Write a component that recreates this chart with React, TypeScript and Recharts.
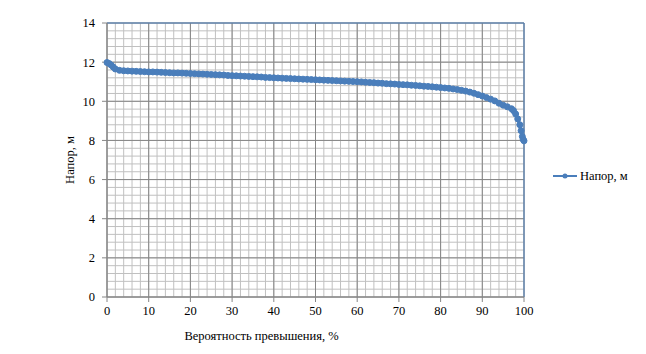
import { CartesianGrid, Line, LineChart, ReferenceLine, XAxis, YAxis } from "recharts";

const probability = [
  0, 0.5, 1, 1.5, 2, 3, 4, 5, 6, 7, 8, 9, 10, 11, 12, 13, 14, 15, 16, 17, 18, 19, 20,
  21, 22, 23, 24, 25, 26, 27, 28, 29, 30, 31, 32, 33, 34, 35, 36, 37, 38, 39, 40,
  41, 42, 43, 44, 45, 46, 47, 48, 49, 50, 51, 52, 53, 54, 55, 56, 57, 58, 59, 60,
  61, 62, 63, 64, 65, 66, 67, 68, 69, 70, 71, 72, 73, 74, 75, 76, 77, 78, 79, 80,
  81, 82, 83, 84, 85, 86, 87, 88, 89, 90, 91, 92, 93, 94, 95, 96, 97, 97.5, 98,
  98.5, 99, 99.3, 99.6, 99.8, 100,
];

const head = [
  11.98, 11.93, 11.85, 11.75, 11.65, 11.58, 11.56, 11.55, 11.54, 11.53, 11.52, 11.51,
  11.5, 11.5, 11.49, 11.48, 11.47, 11.46, 11.45, 11.45, 11.44, 11.43, 11.42, 11.41,
  11.4, 11.39, 11.38, 11.37, 11.36, 11.35, 11.34, 11.32, 11.31, 11.3, 11.29, 11.28,
  11.27, 11.26, 11.25, 11.24, 11.22, 11.21, 11.2, 11.19, 11.18, 11.17, 11.16, 11.15,
  11.14, 11.13, 11.12, 11.11, 11.1, 11.09, 11.08, 11.07, 11.06, 11.05, 11.04, 11.03,
  11.02, 11.01, 11.0, 10.99, 10.97, 10.96, 10.95, 10.93, 10.92, 10.9, 10.89, 10.88,
  10.86, 10.85, 10.84, 10.82, 10.81, 10.79, 10.77, 10.76, 10.74, 10.72, 10.7, 10.68,
  10.66, 10.63, 10.6, 10.56, 10.52, 10.47, 10.41, 10.34, 10.27, 10.19, 10.11, 10.02,
  9.9, 9.8, 9.72, 9.62, 9.52, 9.35, 9.1, 8.8, 8.5, 8.2, 8.05, 7.98,
];

const xTicks = [0, 10, 20, 30, 40, 50, 60, 70, 80, 90, 100];
const yTicks = [0, 2, 4, 6, 8, 10, 12, 14];

// minor grid: every 2 % on x, every 0.4 m on y
const xMinor = Array.from({ length: 51 }, (_, i) => i * 2);
const yMinor = Array.from({ length: 36 }, (_, i) => Math.round(i * 4) / 10);

const data = probability.map((p, i) => ({ p, head: head[i] }));

const FONT = "'Liberation Serif', 'DejaVu Serif', serif";
const BLUE = "#4a7ebb";
const tickStyle = { fill: "#000", fontSize: 12.5, fontFamily: FONT };

export default function App() {
  return (
    <div
      style={{
        position: "absolute",
        left: 0,
        top: 0,
        width: 646,
        height: 354,
        background: "#fff",
        fontFamily: FONT,
      }}
    >
      <LineChart
        width={646}
        height={354}
        data={data}
        margin={{ top: 23, right: 122, left: 67, bottom: 27 }}
        style={{ fontFamily: FONT }}
      >
        <CartesianGrid
          stroke="#c0c0c0"
          strokeWidth={1}
          verticalValues={xMinor}
          horizontalValues={yMinor}
        />
        <CartesianGrid stroke="#868686" strokeWidth={1} />
        <XAxis
          dataKey="p"
          type="number"
          domain={[0, 100]}
          ticks={xTicks}
          interval={0}
          stroke="#868686"
          tickSize={5}
          tickMargin={4}
          tick={tickStyle}
          height={30}
          label={{
            content: ({ viewBox }: any) => (
              <text
                x={viewBox.x + viewBox.width / 2 - 54}
                y={viewBox.y + 43}
                textAnchor="middle"
                style={{ fontFamily: FONT, fontSize: 12.5 }}
                fill="#000"
              >
                Вероятность превышения, %
              </text>
            ),
          }}
        />
        <YAxis
          type="number"
          domain={[0, 14]}
          ticks={yTicks}
          interval={0}
          stroke="#868686"
          tickSize={5}
          tickMargin={7}
          tick={tickStyle}
          width={40}
          label={{
            content: ({ viewBox }: any) => {
              const cx = 74;
              const cy = viewBox.y + viewBox.height / 2;
              return (
                <text
                  x={cx}
                  y={cy}
                  transform={`rotate(-90 ${cx} ${cy})`}
                  textAnchor="middle"
                  style={{ fontFamily: FONT, fontSize: 12.5 }}
                  fill="#000"
                >
                  Напор, м
                </text>
              );
            },
          }}
        />
        <ReferenceLine y={14} stroke={BLUE} strokeWidth={1} />
        <ReferenceLine x={100} stroke={BLUE} strokeWidth={1} />
        <Line
          dataKey="head"
          type="linear"
          stroke={BLUE}
          strokeWidth={3}
          dot={{ r: 3, fill: BLUE, stroke: BLUE, strokeWidth: 1 }}
          isAnimationActive={false}
        />
      </LineChart>
      <div
        style={{
          position: "absolute",
          left: 553,
          top: 168,
          display: "flex",
          alignItems: "center",
          fontSize: 12.5,
          color: "#000",
          whiteSpace: "nowrap",
        }}
      >
        <svg width={25} height={16}>
          <line x1={0} y1={8} x2={24} y2={8} stroke={BLUE} strokeWidth={2} />
          <circle cx={12} cy={8} r={2.5} fill={BLUE} />
        </svg>
        <span style={{ marginLeft: 2 }}>Напор, м</span>
      </div>
    </div>
  );
}
